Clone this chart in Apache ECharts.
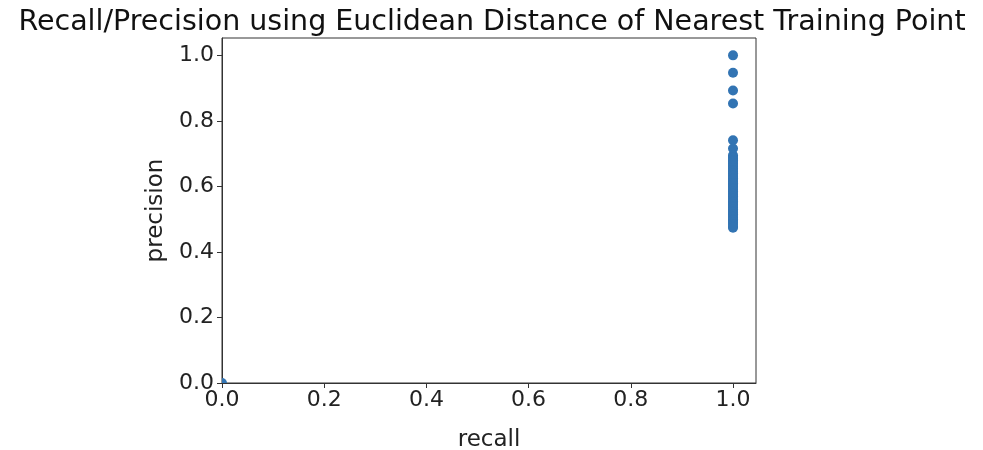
<!DOCTYPE html>
<html><head><meta charset="utf-8">
<script src="https://cdn.jsdelivr.net/npm/echarts@6/dist/echarts.min.js"></script>
<style>html,body{margin:0;padding:0;background:#fff}#c{width:983px;height:450px}</style>
</head><body><div id="c"></div>
<script>
const titleText = 'Recall/Precision using Euclidean Distance of Nearest Training Point';
const xTicks = [0.0, 0.2, 0.4, 0.6, 0.8, 1.0];
const yTicks = [0.0, 0.2, 0.4, 0.6, 0.8, 1.0];
const recall = [0, 1,1,1,1,1,1, 1,1,1,1,1,1,1,1,1,1, 1,1,1,1,1,1,1,1,1,1, 1,1,1,1,1,1,1,1,1,1, 1,1,1,1,1,1,1,1,1,1, 1,1,1,1,1];
const precision = [0, 1.0, 0.947, 0.893, 0.853, 0.741, 0.716,
  0.695, 0.69, 0.685, 0.68, 0.675, 0.67, 0.665, 0.66, 0.655, 0.65,
  0.645, 0.64, 0.635, 0.63, 0.625, 0.62, 0.615, 0.61, 0.605, 0.60,
  0.595, 0.59, 0.585, 0.58, 0.575, 0.57, 0.565, 0.56, 0.555, 0.55,
  0.545, 0.54, 0.535, 0.53, 0.525, 0.52, 0.515, 0.51, 0.505, 0.50,
  0.495, 0.49, 0.485, 0.478, 0.474];
const pts = recall.map((r,i)=>{
  if (r === 0 && precision[i] === 0) {
    return {value:[r, precision[i]], symbol:'path://M0,10 L0,0 A10,10 0 0,1 10,10 Z', symbolSize:5, symbolOffset:[2.5,-2.5]};
  }
  return [r, precision[i]];
});
const font = 'DejaVu Sans';
const chart = echarts.init(document.getElementById('c'));
chart.setOption({
  animation:false,
  title:{text:titleText,left:487,textAlign:'center',top:3,textStyle:{fontFamily:font,fontSize:28.5,fontWeight:'normal',color:'#111'}},
  grid:{left:222,right:227,top:38,bottom:67,outerBoundsMode:'none',containLabel:false,show:true,borderColor:'#333',borderWidth:1,backgroundColor:'transparent'},
  xAxis:{type:'value',min:0,max:1.045,interval:0.2,name:'recall',nameLocation:'middle',nameGap:46,
    nameTextStyle:{fontFamily:font,fontSize:23,color:'#222'},
    axisLine:{show:true,lineStyle:{color:'#333'}},axisTick:{show:true,length:5,lineStyle:{color:'#333'}},
    splitLine:{show:false},
    axisLabel:{fontFamily:font,fontSize:22,color:'#222',margin:6,showMaxLabel:false,formatter:v=>xTicks.some(t=>Math.abs(t-v)<1e-6)?v.toFixed(1):''}},
  yAxis:{type:'value',min:0,max:1.053,interval:0.2,name:'precision',nameLocation:'middle',nameGap:54,nameRotate:90,
    nameTextStyle:{fontFamily:font,fontSize:23,color:'#222'},
    axisLine:{show:true,lineStyle:{color:'#333'}},axisTick:{show:true,length:5,lineStyle:{color:'#333'}},
    splitLine:{show:false},
    axisLabel:{fontFamily:font,fontSize:22,color:'#222',margin:8,showMaxLabel:false,formatter:v=>yTicks.some(t=>Math.abs(t-v)<1e-6)?v.toFixed(1):''}},
  series:[{type:'scatter',data:pts,symbolSize:10,clip:true,itemStyle:{color:'#3274b3',opacity:1}}]
});
</script></body></html>
